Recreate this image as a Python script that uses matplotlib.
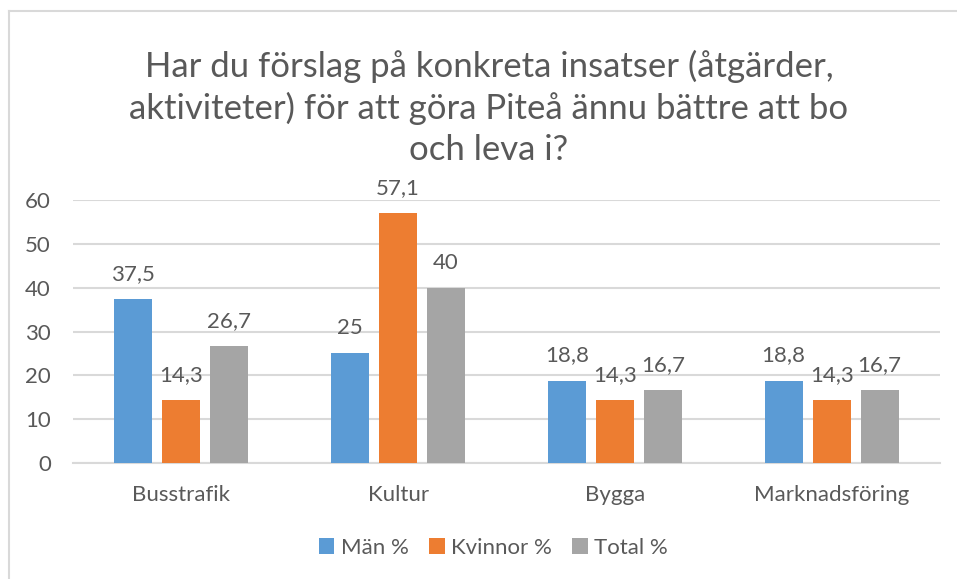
import matplotlib
matplotlib.use("Agg")
import matplotlib.pyplot as plt
import numpy as np
from matplotlib.lines import Line2D

plt.rcParams['font.family'] = ['Lato', 'DejaVu Sans']

categories = ["Busstrafik", "Kultur", "Bygga", "Marknadsföring"]
series_names = ["Män %", "Kvinnor %", "Total %"]
man = [37.5, 25, 18.8, 18.8]
kvinnor = [14.3, 57.1, 14.3, 14.3]
total = [26.7, 40, 16.7, 16.7]
colors = ["#5B9BD5", "#ED7D31", "#A5A5A5"]
yticks = [0, 10, 20, 30, 40, 50, 60]

text_color = "#595959"
grid_color = "#D9D9D9"

W, H = 957, 579
fig = plt.figure(figsize=(W / 100, H / 100), dpi=100)
ax = fig.add_axes([73 / W, 1 - 463 / H, 867 / W, 263 / H])

x = np.arange(len(categories))
width = 0.175
step = 0.2215

for i, (vals, name, col) in enumerate(zip([man, kvinnor, total], series_names, colors)):
    pos = x + (i - 1) * step
    ax.bar(pos, vals, width, color=col, label=name, zorder=3)
    for px, v in zip(pos, vals):
        lbl = ("%g" % v).replace(".", ",")
        ax.annotate(lbl, xy=(px, v), xytext=(0, 18), textcoords="offset points",
                    ha="center", va="center", fontsize=16, color=text_color)

ax.set_xlim(-0.5, len(categories) - 0.5)
ax.set_ylim(0, 60)
ax.set_yticks(yticks)
ax.set_yticklabels([str(t) for t in yticks], fontsize=16, color=text_color)
ax.set_xticks(x)
ax.set_xticklabels(categories, fontsize=16, color=text_color)
ax.tick_params(axis="both", length=0)
ax.tick_params(axis="x", pad=16)
ax.tick_params(axis="y", pad=16)

ax.yaxis.grid(True, color=grid_color, linewidth=1.5, zorder=0)
ax.set_axisbelow(True)
for s in ["top", "right", "left"]:
    ax.spines[s].set_visible(False)
ax.spines["bottom"].set_color(grid_color)
ax.spines["bottom"].set_linewidth(1.5)

fig.text(0.511, 1 - 108 / H, "Har du förslag på konkreta insatser (åtgärder,\naktiviteter) för att göra Piteå ännu bättre att bo\noch leva i?",
         ha="center", va="center", fontsize=25, color=text_color, linespacing=1.35)

fig.legend(loc="center", bbox_to_anchor=(0.5157, 1 - 548 / H), ncol=3, frameon=False,
           fontsize=16, handlelength=0.7, handleheight=0.7, handletextpad=0.3,
           columnspacing=0.9, labelcolor=text_color)

# chart border (only left and top visible in the reference crop)
fig.lines.append(Line2D([8.5 / W, 8.5 / W], [0, 1 - 10.5 / H], transform=fig.transFigure,
                        color=grid_color, linewidth=1.5))
fig.lines.append(Line2D([8.5 / W, 1], [1 - 10.5 / H, 1 - 10.5 / H], transform=fig.transFigure,
                        color=grid_color, linewidth=1.5))

fig.savefig("out.png", dpi=100)
